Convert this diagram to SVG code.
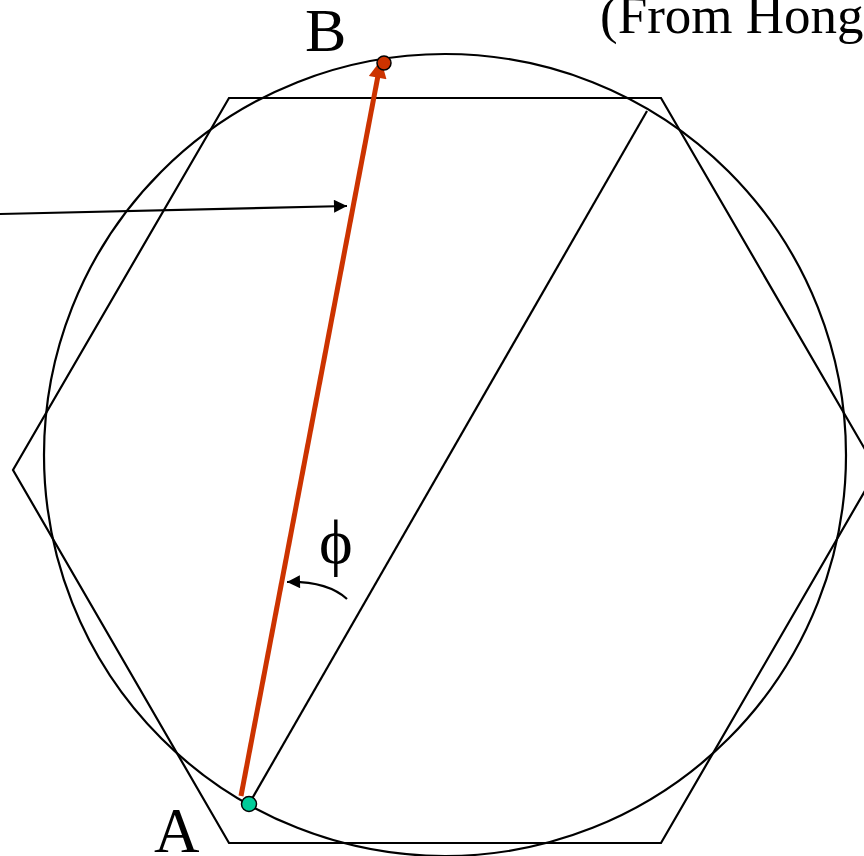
<svg xmlns="http://www.w3.org/2000/svg" width="864" height="856" viewBox="0 0 864 856">
<defs>
<style>
.ln{fill:none;stroke:#000;stroke-width:2.2}
.lbl{font-family:"Liberation Serif","Times New Roman",serif;fill:#000}
</style>
<marker id="ah" viewBox="0 0 10 10" refX="10" refY="5" markerWidth="17" markerHeight="13" markerUnits="userSpaceOnUse" orient="auto">
<path d="M0,0 L10,5 L0,10 z" fill="#000"/>
</marker>
<marker id="ahr" viewBox="0 0 10 10" refX="10" refY="5" markerWidth="4" markerHeight="3.6" orient="auto">
<path d="M0,0 L10,5 L0,10 z" fill="#CC3300"/>
</marker>
</defs>
<rect width="864" height="856" fill="#fff"/>
<g id="circle"><circle class="ln" cx="445" cy="455" r="401"/></g>
<g id="hexagon"><polygon class="ln" points="229,98 661,98 877,470 661,843 229,843 13,470"/></g>
<g id="connectors">
<line class="ln" x1="647" y1="111" x2="249" y2="804"/>
<line x1="241" y1="796" x2="381" y2="60" stroke="#CC3300" stroke-width="5" marker-end="url(#ahr)"/>
<line x1="0" y1="214" x2="347" y2="206" stroke="#000" stroke-width="2.2" marker-end="url(#ah)"/>
<path d="M347,599 Q327,581 287,582" fill="none" stroke="#000" stroke-width="2.2" marker-end="url(#ah)"/>
</g>
<g id="pointB"><circle cx="384" cy="63" r="7" fill="#CC3300" stroke="#000" stroke-width="1.5"/></g>
<g id="pointA"><circle cx="249" cy="804" r="7.5" fill="#00CC99" stroke="#000" stroke-width="1.5"/></g>
<g id="labels">
<text class="lbl" x="305" y="51" font-size="62">B</text>
<text class="lbl" x="154" y="852" font-size="63">A</text>
<text class="lbl" x="319" y="563" font-size="64">ϕ</text>
<text class="lbl" x="600" y="33" font-size="53">(From Hong</text>
</g>
</svg>
